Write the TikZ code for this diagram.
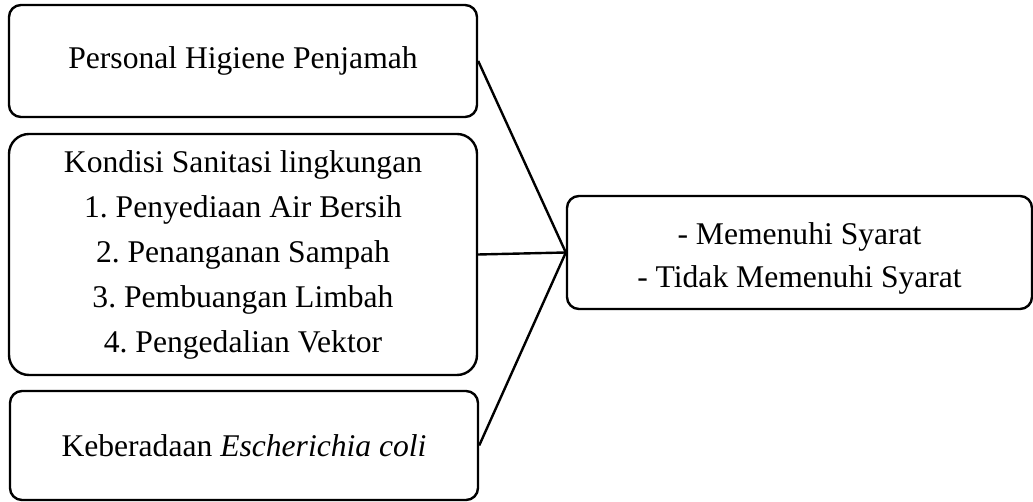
\documentclass[tikz,border=0pt]{standalone}
\usepackage{fontspec}
\setmainfont{Liberation Serif}
\usepackage{tikz}
\usetikzlibrary{positioning}
\frenchspacing

\begin{document}
\begin{tikzpicture}[x=1pt,y=1pt,
  box/.style={draw=black, line width=1.2pt, rounded corners=6pt, align=center,
    inner sep=0pt, font=\fontsize{15.8}{22.5}\selectfont},
  link/.style={draw=black, line width=1.2pt}]
\useasboundingbox (0,0) rectangle (516.5,251);
% left column
\node[box, minimum width=234pt, minimum height=56pt] (hygiene) at (121.5,220.5) {Personal Higiene Penjamah};
\node[box, rounded corners=10pt, minimum width=234pt, minimum height=120.5pt] (sanitasi) at (121.5,123.75)
  {Kondisi Sanitasi lingkungan\\ 1. Penyediaan Air Bersih\\ 2. Penanganan Sampah\\ 3. Pembuangan Limbah\\ 4. Pengedalian Vektor};
\node[box, minimum width=234pt, minimum height=54.5pt] (ecoli) at (122,28.25) {Keberadaan \textit{Escherichia coli}};
% outcome
\node[box, font=\fontsize{15.8}{21.5}\selectfont, minimum width=232.5pt, minimum height=56.5pt] (syarat) at (399.75,124.75)
  {\rule{0pt}{17pt}- Memenuhi Syarat\\ - Tidak Memenuhi Syarat};
\draw[link] (hygiene.east) -- (syarat.west);
\draw[link] (sanitasi.east) -- (syarat.west);
\draw[link] (ecoli.east) -- (syarat.west);
\end{tikzpicture}
\end{document}
